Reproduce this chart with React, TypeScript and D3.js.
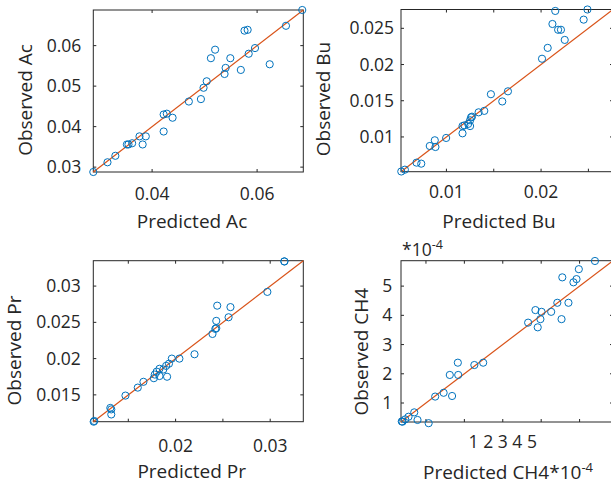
import React from 'react';
import * as d3 from 'd3';

// ---------- data ----------
const AC_PRED = [0.0288, 0.0315, 0.033, 0.0352, 0.0355, 0.0362, 0.0376, 0.0388, 0.0382, 0.0422, 0.0422, 0.0428, 0.0439, 0.047, 0.0493, 0.0498, 0.0504, 0.0512, 0.052, 0.0538, 0.054, 0.0549, 0.0569, 0.0576, 0.0582, 0.0584, 0.0596, 0.0624, 0.0655, 0.0686];
const AC_OBS = [0.0288, 0.0312, 0.0328, 0.0356, 0.0356, 0.0359, 0.0376, 0.0376, 0.0356, 0.0388, 0.043, 0.0432, 0.0422, 0.0462, 0.0468, 0.0496, 0.0512, 0.0569, 0.059, 0.053, 0.0545, 0.0569, 0.054, 0.0637, 0.0639, 0.058, 0.0594, 0.0554, 0.0649, 0.0688];

const BU_PRED = [0.00523, 0.00561, 0.00684, 0.00734, 0.00824, 0.00877, 0.00884, 0.00997, 0.0117, 0.0117, 0.0119, 0.0123, 0.0125, 0.0125, 0.0126, 0.0127, 0.0134, 0.014, 0.0147, 0.0159, 0.0165, 0.0201, 0.0207, 0.0212, 0.0215, 0.0218, 0.0221, 0.0225, 0.0245, 0.0249];
const BU_OBS = [0.00523, 0.00548, 0.00645, 0.00631, 0.00875, 0.00954, 0.00861, 0.00986, 0.0105, 0.0115, 0.0116, 0.0118, 0.0123, 0.0115, 0.0127, 0.0128, 0.0134, 0.0136, 0.0159, 0.0149, 0.0163, 0.0208, 0.0223, 0.0256, 0.0274, 0.0248, 0.0248, 0.0234, 0.0262, 0.0276];

const PR_PRED = [0.01134, 0.0114, 0.0131, 0.0132, 0.0132, 0.0147, 0.016, 0.0166, 0.0177, 0.0178, 0.018, 0.0183, 0.0183, 0.0187, 0.019, 0.0191, 0.0193, 0.0196, 0.0204, 0.022, 0.0239, 0.0242, 0.0243, 0.0243, 0.0244, 0.0256, 0.0258, 0.0297, 0.0315, 0.0315];
const PR_OBS = [0.0113, 0.0114, 0.0132, 0.0123, 0.013, 0.0149, 0.016, 0.0168, 0.0173, 0.0178, 0.0182, 0.0186, 0.0176, 0.0185, 0.019, 0.0175, 0.0193, 0.02, 0.02, 0.0206, 0.0234, 0.0241, 0.0242, 0.0252, 0.0273, 0.0257, 0.0271, 0.0292, 0.0334, 0.0334];

// CH4 values in units of 1e-4 (as the axes show them)
const CH4_PRED = [0.37, 0.389, 0.46, 0.546, 0.695, 0.78, 1.07, 1.24, 1.46, 1.68, 1.62, 1.84, 1.83, 2.26, 2.49, 3.66, 3.85, 3.91, 3.98, 4.01, 4.26, 4.42, 4.53, 4.55, 4.71, 4.84, 4.92, 4.98, 5.4];
const CH4_OBS = [0.37, 0.36, 0.44, 0.53, 0.68, 0.42, 0.31, 1.22, 1.35, 1.24, 1.96, 1.96, 2.38, 2.3, 2.38, 3.75, 4.18, 3.59, 3.87, 4.12, 4.12, 4.43, 3.87, 5.3, 4.43, 5.13, 5.24, 5.58, 5.86];

const AC_DOMAIN = [0.0288, 0.0688];
const BU_DOMAIN = [0.0052, 0.0276];
const PR_DOMAIN = [0.0113, 0.0335];
const CH4_DOMAIN = [0.35, 5.87];

const AC_XTICKS = [0.04, 0.06];
const AC_YTICKS = [0.03, 0.04, 0.05, 0.06];
const BU_XTICKS = [0.01, 0.015, 0.02, 0.025];
const BU_XLABELS = [0.01, 0.02];
const BU_YTICKS = [0.01, 0.015, 0.02, 0.025];
const PR_XTICKS = [0.015, 0.02, 0.025, 0.03];
const PR_XLABELS = [0.02, 0.03];
const PR_YTICKS = [0.015, 0.02, 0.025, 0.03];
const CH4_TICKS = [1, 2, 3, 4, 5];

const FONT = '"Open Sans", "Noto Sans", sans-serif';
const TXT = '#262626';
const BLUE = '#0072BD';
const ORANGE = '#D95319';
const TICK_FS = 17.5;
const LABEL_FS = 19;
const TL = 3;

type PanelProps = {
  left: number; top: number; width: number; height: number;
  domain: number[]; pred: number[]; obs: number[];
  xTicks: number[]; xLabels: number[]; yTicks: number[];
  fmt: (v: number) => string;
  yLabelGap: number; xLabelDy: number;
  xTitle: React.ReactNode; xTitleX: number; xTitleY: number; xTitleAnchor?: string;
  yTitle: string; yTitleX: number; yTitleY: number;
  packLabels?: number;
};

function Panel(p: PanelProps) {
  const sx = d3.scaleLinear().domain(p.domain).range([p.left, p.left + p.width]);
  const sy = d3.scaleLinear().domain(p.domain).range([p.top + p.height, p.top]);
  const line = d3.line()([[sx(p.domain[0]), sy(p.domain[0])], [sx(p.domain[1]), sy(p.domain[1])]]) || '';
  const bottom = p.top + p.height;
  const right = p.left + p.width;
  const mid = p.xLabels.length ? p.xLabels[Math.floor(p.xLabels.length / 2)] : 0;
  const labelX = (v: number) => (p.packLabels ? sx(mid) + (v - mid) * p.packLabels : sx(v));
  return (
    <g>
      {/* ticks */}
      {p.xTicks.map((t, i) => (
        <g key={'xt' + i} stroke={TXT} strokeWidth={1}>
          <line x1={sx(t)} x2={sx(t)} y1={bottom} y2={bottom - TL} />
          <line x1={sx(t)} x2={sx(t)} y1={p.top} y2={p.top + TL} />
        </g>
      ))}
      {p.yTicks.map((t, i) => (
        <g key={'yt' + i} stroke={TXT} strokeWidth={1}>
          <line x1={p.left} x2={p.left + TL} y1={sy(t)} y2={sy(t)} />
          <line x1={right} x2={right - TL} y1={sy(t)} y2={sy(t)} />
        </g>
      ))}
      <rect x={p.left} y={p.top} width={p.width} height={p.height} fill="none" stroke={TXT} strokeWidth={1} />
      {/* tick labels */}
      {p.xLabels.map((t, i) => (
        <text key={'xl' + i} x={labelX(t)} y={bottom + p.xLabelDy} textAnchor="middle"
          fontFamily={FONT} fontSize={TICK_FS} fill={TXT}>{p.fmt(t)}</text>
      ))}
      {p.yTicks.map((t, i) => (
        <text key={'yl' + i} x={p.left - p.yLabelGap} y={sy(t) + 6} textAnchor="end"
          fontFamily={FONT} fontSize={TICK_FS} fill={TXT}>{p.fmt(t)}</text>
      ))}
      {/* diagonal */}
      <path d={line} stroke={ORANGE} strokeWidth={1.2} fill="none" />
      {/* points */}
      {p.pred.map((v, i) => (
        <circle key={'c' + i} cx={sx(v)} cy={sy(p.obs[i])} r={3.6} fill="none" stroke={BLUE} strokeWidth={1} />
      ))}
      {/* titles */}
      <text x={p.xTitleX} y={p.xTitleY} textAnchor={p.xTitleAnchor || 'middle'} fontFamily={FONT}
        fontSize={LABEL_FS} fill={TXT}>{p.xTitle}</text>
      <text transform={`translate(${p.yTitleX},${p.yTitleY}) rotate(-90)`} textAnchor="middle"
        fontFamily={FONT} fontSize={LABEL_FS} fill={TXT}>{p.yTitle}</text>
    </g>
  );
}

const fmtDec = (v: number) => String(+v.toFixed(4));
const fmtInt = (v: number) => String(v);

export default function App() {
  return (
    <svg width={611} height={484} style={{ position: 'absolute', left: 0, top: 0, background: '#fff' }}>
      <rect x={0} y={0} width={611} height={484} fill="#fff" />
      <Panel left={93.3} top={10} width={210} height={162} domain={AC_DOMAIN} pred={AC_PRED} obs={AC_OBS}
        xTicks={AC_XTICKS} xLabels={AC_XTICKS} yTicks={AC_YTICKS} fmt={fmtDec}
        yLabelGap={12} xLabelDy={28}
        xTitle="Predicted Ac" xTitleX={192} xTitleY={228}
        yTitle="Observed Ac" yTitleX={32} yTitleY={100} />
      <Panel left={401} top={9.5} width={212} height={162.2} domain={BU_DOMAIN} pred={BU_PRED} obs={BU_OBS}
        xTicks={BU_XTICKS} xLabels={BU_XLABELS} yTicks={BU_YTICKS} fmt={fmtDec}
        yLabelGap={7} xLabelDy={26.5}
        xTitle="Predicted Bu" xTitleX={499} xTitleY={228}
        yTitle="Observed Bu" yTitleX={330} yTitleY={99} />
      <Panel left={93.3} top={260.7} width={210} height={161} domain={PR_DOMAIN} pred={PR_PRED} obs={PR_OBS}
        xTicks={PR_XTICKS} xLabels={PR_XLABELS} yTicks={PR_YTICKS} fmt={fmtDec}
        yLabelGap={12.5} xLabelDy={30}
        xTitle="Predicted Pr" xTitleX={191.7} xTitleY={478}
        yTitle="Observed Pr" yTitleX={21} yTitleY={350.5} />
      <Panel left={401} top={260.7} width={212} height={161.3} domain={CH4_DOMAIN} pred={CH4_PRED} obs={CH4_OBS}
        xTicks={CH4_TICKS} xLabels={CH4_TICKS} yTicks={CH4_TICKS} fmt={fmtInt}
        yLabelGap={8.7} xLabelDy={26} packLabels={14.6}
        xTitle={<>
          <tspan>Predicted CH4*10</tspan>
          <tspan fontSize={13} dy={-7}>-4</tspan>
        </>}
        xTitleX={423} xTitleY={479} xTitleAnchor="start"
        yTitle="Observed CH4" yTitleX={368} yTitleY={351.7} />
      <text x={402} y={256} fontFamily={FONT} fontSize={TICK_FS} fill={TXT}>
        <tspan>*10</tspan>
        <tspan fontSize={12.5} dy={-7}>-4</tspan>
      </text>
    </svg>
  );
}
